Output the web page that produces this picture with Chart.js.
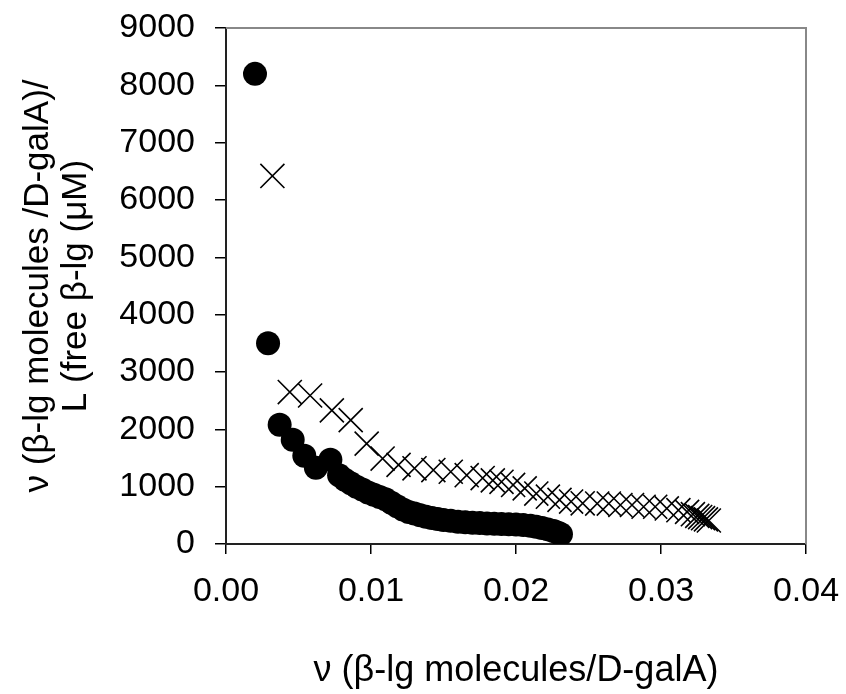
<!DOCTYPE html>
<html>
<head>
<meta charset="utf-8">
<script src="https://cdn.jsdelivr.net/npm/chart.js@4"></script>
<style>
  html, body { margin: 0; padding: 0; background: #fff; }
  #wrap { width: 846px; height: 694px; }
</style>
</head>
<body>
<div id="wrap"><canvas id="chart" width="846" height="694"></canvas></div>
<script>
// circles series (nu, nu/L)
var circleX = [0.0020, 0.0029, 0.0037, 0.0046, 0.0054, 0.0062, 0.0072, 0.0078, 0.0082, 0.0086,
               0.0090, 0.0094, 0.0098, 0.0102, 0.0106, 0.0110, 0.0114, 0.0118, 0.0122, 0.0126,
               0.0130, 0.0134, 0.0138, 0.0142, 0.0146, 0.0150, 0.0155, 0.0160, 0.0165, 0.0170,
               0.0175, 0.0180, 0.0185, 0.0190, 0.0195, 0.0200, 0.0205, 0.0210, 0.0214, 0.0218,
               0.0222, 0.0226, 0.0229, 0.0231];
var circleY = [8200, 3500, 2080, 1820, 1540, 1330, 1470, 1200, 1120, 1060,
               1000, 950, 900, 860, 820, 780, 720, 660, 600, 560,
               530, 500, 475, 455, 435, 420, 405, 390, 380, 372,
               365, 358, 352, 347, 343, 338, 330, 318, 300, 280,
               255, 225, 195, 170];

// crosses series
var crossX = [0.0032, 0.0044, 0.0058, 0.0073, 0.0086, 0.0097, 0.0108, 0.0119, 0.0130, 0.0143,
              0.0155, 0.0166, 0.0177, 0.0184, 0.0190, 0.0198, 0.0206, 0.0214, 0.0222, 0.0230,
              0.0238, 0.0246, 0.0256, 0.0264, 0.0272, 0.0280, 0.0288, 0.0296, 0.0304, 0.0312,
              0.0318, 0.0322, 0.0325, 0.0327, 0.0329, 0.0331, 0.0333];
var crossY = [6420, 2650, 2590, 2330, 2160, 1750, 1490, 1380, 1320, 1290,
              1260, 1200, 1150, 1110, 1085, 1030, 970, 880, 825, 770,
              740, 710, 705, 705, 680, 680, 650, 650, 620, 590,
              560, 520, 490, 470, 450, 430, 410];

var xTicks = [0, 0.01, 0.02, 0.03, 0.04];
var yTicks = [0, 1000, 2000, 3000, 4000, 5000, 6000, 7000, 8000, 9000];

var xTitle = 'ν (β-lg molecules/D-galA)';
var yTitle = ['ν (β-lg molecules /D-galA)/', 'L (free β-lg (μM)'];

function pts(xs, ys) {
    var out = [];
    for (var i = 0; i < xs.length; i++) {
        out.push({x: xs[i], y: ys[i]});
    }
    return out;
}

var FONT = 'Liberation Sans, Arial, sans-serif';

// gray frame top + right
var framePlugin = {
    id: 'frame',
    afterDraw: function(chart) {
        var a = chart.chartArea, ctx = chart.ctx;
        ctx.save();
        ctx.strokeStyle = '#888888';
        ctx.lineWidth = 2;
        ctx.beginPath();
        ctx.moveTo(a.left, a.top);
        ctx.lineTo(a.right, a.top);
        ctx.lineTo(a.right, a.bottom);
        ctx.stroke();
        ctx.restore();
    }
};

new Chart(document.getElementById('chart'), {
    type: 'scatter',
    data: {
        datasets: [
            {
                label: 'circles',
                data: pts(circleX, circleY),
                pointStyle: 'circle',
                pointRadius: 12,
                pointBorderWidth: 0,
                backgroundColor: '#000',
                borderColor: '#000'
            },
            {
                label: 'crosses',
                data: pts(crossX, crossY),
                pointStyle: 'crossRot',
                pointRadius: 17,
                pointBorderWidth: 1.6,
                backgroundColor: '#000',
                borderColor: '#000'
            }
        ]
    },
    options: {
        responsive: false,
        animation: false,
        layout: {padding: {top: 28, right: 40, left: 0, bottom: 0}},
        plugins: {legend: {display: false}, tooltip: {enabled: false}},
        scales: {
            x: {
                type: 'linear',
                min: 0, max: 0.04,
                afterBuildTicks: function(s) { s.ticks = xTicks.map(function(v) { return {value: v}; }); },
                afterFit: function(s) { s.height = 150; s.paddingLeft = 0; s.paddingRight = 0; },
                grid: {drawOnChartArea: false, drawTicks: true, tickLength: 10, color: '#000', lineWidth: 1.5},
                border: {display: true, color: '#222', width: 2},
                ticks: {
                    color: '#000', padding: 17,
                    font: {family: FONT, size: 34},
                    callback: function(v) { return v.toFixed(2); }
                },
                title: {display: true, text: xTitle, color: '#000', font: {family: FONT, size: 36}, padding: {top: 20, bottom: 1}}
            },
            y: {
                type: 'linear',
                min: 0, max: 9000,
                afterBuildTicks: function(s) { s.ticks = yTicks.map(function(v) { return {value: v}; }); },
                afterFit: function(s) { s.width = 226; s.paddingTop = 0; s.paddingBottom = 0; },
                grid: {drawOnChartArea: false, drawTicks: true, tickLength: 11, color: '#000', lineWidth: 1.5},
                border: {display: true, color: '#222', width: 2},
                ticks: {
                    color: '#000', padding: 20,
                    font: {family: FONT, size: 34},
                    callback: function(v) { return String(v); }
                },
                title: {display: true, text: yTitle, color: '#000', font: {family: FONT, size: 35, lineHeight: 1.1}, padding: {top: 19}}
            }
        }
    },
    plugins: [framePlugin]
});
</script>
</body>
</html>
